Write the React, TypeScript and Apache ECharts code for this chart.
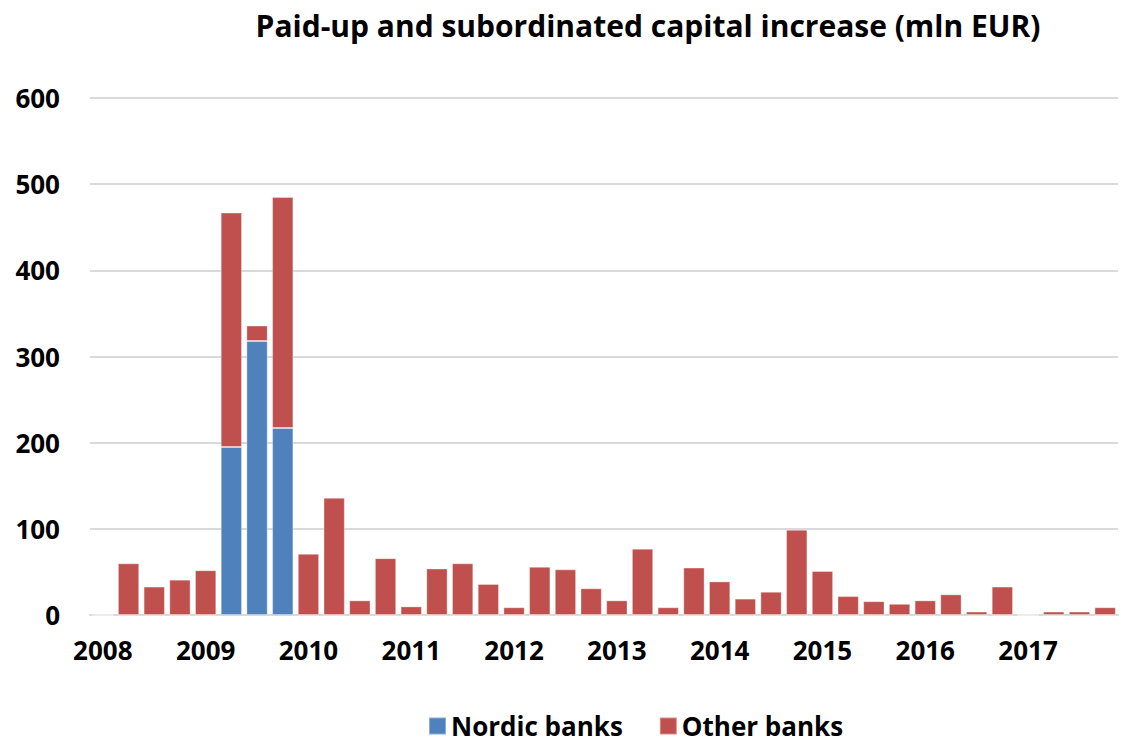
import React, { useEffect, useRef } from "react";
import * as echarts from "echarts";

const years = ["2008", "2009", "2010", "2011", "2012", "2013", "2014", "2015", "2016", "2017"];
const quarters = years.flatMap((y) => [y + " Q1", y + " Q2", y + " Q3", y + " Q4"]);

const nordicBanks = [
  0, 0, 0, 0,
  0, 195, 318, 217,
  0, 0, 0, 0,
  0, 0, 0, 0,
  0, 0, 0, 0,
  0, 0, 0, 0,
  0, 0, 0, 0,
  0, 0, 0, 0,
  0, 0, 0, 0,
  0, 0, 0, 0,
];

const otherBanks = [
  0, 60, 33, 41,
  52, 272, 18, 268,
  71, 136, 17, 66,
  10, 54, 60, 36,
  9, 56, 53, 31,
  17, 77, 9, 55,
  39, 19, 27, 99,
  51, 22, 16, 13,
  17, 24, 4, 33,
  0, 4, 4, 9,
];

const yTicks = [0, 100, 200, 300, 400, 500, 600];

const FONT = "Open Sans";

export default function App() {
  const ref = useRef<HTMLDivElement>(null);
  useEffect(() => {
    document.body.style.margin = "0";
    const chart = echarts.init(ref.current!, null, { renderer: "svg" });
    chart.setOption({
      animation: false,
      backgroundColor: "#ffffff",
      textStyle: { fontFamily: FONT },
      title: {
        text: "Paid-up and subordinated capital increase (mln EUR)",
        left: 643,
        textAlign: "center",
        top: 5,
        textStyle: { fontFamily: FONT, fontWeight: "bold", fontSize: 30, color: "#000" },
      },
      legend: {
        top: 711,
        left: 428,
        padding: 0,
        itemWidth: 17,
        itemHeight: 17,
        itemGap: 36,
        icon: "rect",
        textStyle: { fontFamily: FONT, fontWeight: "bold", fontSize: 26, lineHeight: 30, color: "#000" },
        data: ["Nordic banks", "Other banks"],
      },
      grid: { left: 90, right: 3, top: 98, bottom: 132, containLabel: false },
      xAxis: {
        type: "category",
        data: quarters,
        axisTick: { show: false },
        axisLine: { lineStyle: { color: "#d9d9d9", width: 2 } },
        axisLabel: {
          interval: 3,
          margin: 22,
          formatter: (v: string) => v.slice(0, 4),
          fontFamily: FONT,
          fontWeight: "bold",
          fontSize: 26,
          color: "#000",
        },
      },
      yAxis: {
        type: "value",
        min: yTicks[0],
        max: yTicks[yTicks.length - 1],
        interval: 100,
        axisLine: { show: false },
        axisTick: { show: false },
        splitLine: { lineStyle: { color: "#d9d9d9", width: 2 } },
        axisLabel: {
          margin: 30,
          fontFamily: FONT,
          fontWeight: "bold",
          fontSize: 26,
          color: "#000",
        },
      },
      series: [
        {
          name: "Nordic banks",
          type: "bar",
          stack: "total",
          data: nordicBanks,
          barCategoryGap: "17%",
          itemStyle: { color: "#4F81BD", borderColor: "rgba(255,255,255,0.35)", borderWidth: 1 },
        },
        {
          name: "Other banks",
          type: "bar",
          stack: "total",
          data: otherBanks,
          barCategoryGap: "17%",
          itemStyle: { color: "#C0504D", borderColor: "rgba(255,255,255,0.35)", borderWidth: 1 },
        },
      ],
    });
    return () => chart.dispose();
  }, []);
  return (
    <div
      ref={ref}
      style={{ position: "absolute", left: 0, top: 0, width: 1121, height: 747 }}
    />
  );
}
